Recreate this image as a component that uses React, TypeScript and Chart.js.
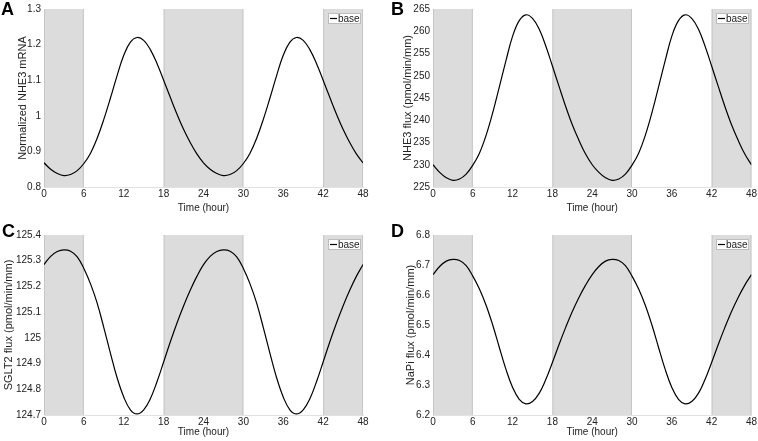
import { useEffect, useRef } from "react";
import { Chart, registerables } from "chart.js";

Chart.register(...registerables);

// ---- data ----
const hours = [
  0, 1, 2, 3, 4, 5, 6, 7, 8, 9, 10, 11, 12, 13, 14, 15, 16, 17, 18, 19, 20, 21, 22, 23, 24,
  25, 26, 27, 28, 29, 30, 31, 32, 33, 34, 35, 36, 37, 38, 39, 40, 41, 42, 43, 44, 45, 46, 47, 48,
];

const nhe3mRNA = [
  0.868, 0.85, 0.838, 0.832, 0.835, 0.846, 0.866, 0.895, 0.937, 0.99, 1.05, 1.113, 1.17, 1.207, 1.22,
  1.212, 1.186, 1.147, 1.1, 1.052, 1.005, 0.962, 0.925, 0.893, 0.868,
  0.85, 0.838, 0.832, 0.835, 0.846, 0.866, 0.895, 0.937, 0.99, 1.05, 1.113, 1.17, 1.207, 1.22,
  1.212, 1.186, 1.147, 1.1, 1.052, 1.005, 0.962, 0.925, 0.893, 0.868,
];

const nhe3Flux = [
  230.0, 228.3, 227.1, 226.5, 226.8, 227.9, 229.9, 232.6, 236.6, 241.7, 247.5, 253.4, 258.9, 262.4, 263.7,
  262.9, 260.5, 256.7, 252.2, 247.6, 243.1, 239.0, 235.5, 232.4, 230.0,
  228.3, 227.1, 226.5, 226.8, 227.9, 229.9, 232.6, 236.6, 241.7, 247.5, 253.4, 258.9, 262.4, 263.7,
  262.9, 260.5, 256.7, 252.2, 247.6, 243.1, 239.0, 235.5, 232.4, 230.0,
];

const sglt2Flux = [
  125.285, 125.317, 125.336, 125.342, 125.337, 125.315, 125.27, 125.21, 125.135, 125.04, 124.94, 124.845,
  124.77, 124.72, 124.704, 124.72, 124.763, 124.829, 124.906, 124.984, 125.057, 125.124, 125.185, 125.239, 125.285,
  125.317, 125.336, 125.342, 125.337, 125.315, 125.27, 125.21, 125.135, 125.04, 124.94, 124.845,
  124.77, 124.72, 124.704, 124.72, 124.763, 124.829, 124.906, 124.984, 125.057, 125.124, 125.185, 125.239, 125.285,
];

const napiFlux = [
  6.668, 6.695, 6.713, 6.719, 6.715, 6.698, 6.663, 6.62, 6.566, 6.5, 6.425, 6.352, 6.292, 6.252, 6.237,
  6.245, 6.272, 6.318, 6.375, 6.435, 6.492, 6.545, 6.592, 6.633, 6.668,
  6.695, 6.713, 6.719, 6.715, 6.698, 6.663, 6.62, 6.566, 6.5, 6.425, 6.352, 6.292, 6.252, 6.237,
  6.245, 6.272, 6.318, 6.375, 6.435, 6.492, 6.545, 6.592, 6.633, 6.668,
];

const xTicks = [0, 6, 12, 18, 24, 30, 36, 42, 48];
const nhe3mRNATicks = [0.8, 0.9, 1, 1.1, 1.2, 1.3];
const nhe3FluxTicks = [225, 230, 235, 240, 245, 250, 255, 260, 265];
const sglt2FluxTicks = [124.7, 124.8, 124.9, 125, 125.1, 125.2, 125.3, 125.4];
const napiFluxTicks = [6.2, 6.3, 6.4, 6.5, 6.6, 6.7, 6.8];

// shaded (dark-phase) intervals, in hours
const darkBands: [number, number][] = [
  [0, 6],
  [18, 30],
  [42, 48],
];

const seriesLabel = "base";
const xTitle = "Time (hour)";

// ---- styling ----
const FONT = "'Liberation Sans', Arial, sans-serif";
const TEXT = "#222222";
const TICK_SIZE = 10;

type PanelDef = {
  letter: string;
  yTitle: string;
  values: number[];
  yTicks: number[];
  left: number;
  top: number;
  width: number;
  height: number;
  yAxisW: number;
  padRight: number;
  padTop: number;
  xAxisH: number;
  yTitlePad: number;
  xTitlePad: number;
  letterX: number;
  letterY: number;
};

const panels: PanelDef[] = [
  {
    letter: "A", yTitle: "Normalized NHE3 mRNA", values: nhe3mRNA, yTicks: nhe3mRNATicks,
    left: 0, top: 0, width: 379, height: 220, yAxisW: 44, padRight: 16, padTop: 8, xAxisH: 33,
    yTitlePad: 16.4, xTitlePad: 5.5, letterX: 1, letterY: 15,
  },
  {
    letter: "B", yTitle: "NHE3 flux (pmol/min/mm)", values: nhe3Flux, yTicks: nhe3FluxTicks,
    left: 379, top: 0, width: 379, height: 220, yAxisW: 54, padRight: 6, padTop: 8, xAxisH: 33,
    yTitlePad: 22.4, xTitlePad: 5.5, letterX: 12, letterY: 15,
  },
  {
    letter: "C", yTitle: "SGLT2 flux (pmol/min/mm)", values: sglt2Flux, yTicks: sglt2FluxTicks,
    left: 0, top: 220, width: 379, height: 221, yAxisW: 44, padRight: 16, padTop: 15, xAxisH: 26,
    yTitlePad: 2, xTitlePad: 3, letterX: 2, letterY: 17,
  },
  {
    letter: "D", yTitle: "NaPi flux (pmol/min/mm)", values: napiFlux, yTicks: napiFluxTicks,
    left: 379, top: 220, width: 379, height: 221, yAxisW: 54, padRight: 6, padTop: 15, xAxisH: 26,
    yTitlePad: 25.4, xTitlePad: 3, letterX: 12, letterY: 17,
  },
];

const bandsPlugin = {
  id: "bands",
  beforeDatasetsDraw(chart: any) {
    const { ctx, chartArea } = chart;
    const xs = chart.scales.x;
    ctx.save();
    for (const [a, b] of darkBands) {
      const x0 = xs.getPixelForValue(a);
      const x1 = xs.getPixelForValue(b);
      ctx.fillStyle = "#dcdcdc";
      ctx.fillRect(x0, chartArea.top, x1 - x0, chartArea.bottom - chartArea.top);
      ctx.strokeStyle = "#c6c6c6";
      ctx.lineWidth = 1;
      ctx.beginPath();
      ctx.moveTo(x0 + 0.5, chartArea.top);
      ctx.lineTo(x0 + 0.5, chartArea.bottom);
      ctx.moveTo(x1 - 0.5, chartArea.top);
      ctx.lineTo(x1 - 0.5, chartArea.bottom);
      ctx.stroke();
    }
    ctx.restore();
  },
};

const legendPlugin = {
  id: "boxLegend",
  afterDatasetsDraw(chart: any) {
    const { ctx, chartArea } = chart;
    const label = chart.data.datasets[0].label as string;
    ctx.save();
    ctx.font = `${TICK_SIZE}px ${FONT}`;
    const tw = ctx.measureText(label).width;
    const w = Math.round(10 + tw + 1);
    const h = 11;
    const bx = Math.round(chartArea.right - 2 - w);
    const by = Math.round(chartArea.top + 4);
    ctx.fillStyle = "#ffffff";
    ctx.fillRect(bx, by, w, h);
    ctx.strokeStyle = "#bdbdbd";
    ctx.lineWidth = 1;
    ctx.strokeRect(bx + 0.5, by + 0.5, w - 1, h - 1);
    ctx.strokeStyle = "#000000";
    ctx.lineWidth = 1.2;
    ctx.beginPath();
    ctx.moveTo(bx + 2, by + h / 2);
    ctx.lineTo(bx + 9, by + h / 2);
    ctx.stroke();
    ctx.fillStyle = TEXT;
    ctx.textBaseline = "middle";
    ctx.textAlign = "left";
    ctx.fillText(label, bx + 10, by + h / 2 + 0.5);
    ctx.restore();
  },
};

function PanelChart({ p }: { p: PanelDef }) {
  const ref = useRef<HTMLCanvasElement>(null);
  useEffect(() => {
    const letterPlugin = {
      id: "letter",
      afterDraw(chart: any) {
        const ctx = chart.ctx;
        ctx.save();
        ctx.font = `bold 18px ${FONT}`;
        ctx.fillStyle = "#000";
        ctx.textBaseline = "alphabetic";
        ctx.textAlign = "left";
        ctx.fillText(p.letter, p.letterX, p.letterY);
        ctx.restore();
      },
    };
    const chart = new Chart(ref.current as HTMLCanvasElement, {
      type: "line",
      data: {
        datasets: [
          {
            label: seriesLabel,
            data: hours.map((h, i) => ({ x: h, y: p.values[i] })),
            borderColor: "#000000",
            borderWidth: 1.2,
            pointRadius: 0,
            tension: 0.4,
            fill: false,
          },
        ],
      },
      options: {
        responsive: false,
        animation: false,
        devicePixelRatio: 1,
        layout: { padding: { left: 0, right: p.padRight, top: p.padTop, bottom: 0 } },
        plugins: { legend: { display: false }, tooltip: { enabled: false } },
        scales: {
          x: {
            type: "linear",
            min: 0,
            max: 48,
            afterBuildTicks: (s: any) => {
              s.ticks = xTicks.map((v) => ({ value: v }));
            },
            afterFit: (s: any) => {
              s.height = p.xAxisH;
            },
            ticks: {
              callback: (v: any) => String(v),
              font: { family: FONT, size: TICK_SIZE },
              color: TEXT,
              padding: 1,
              maxRotation: 0,
              autoSkip: false,
            },
            grid: { display: false, drawTicks: false },
            border: { display: true, color: "#e2e2e2" },
            title: {
              display: true,
              text: xTitle,
              font: { family: FONT, size: TICK_SIZE },
              color: TEXT,
              padding: { top: 0, bottom: p.xTitlePad },
            },
          },
          y: {
            type: "linear",
            min: p.yTicks[0],
            max: p.yTicks[p.yTicks.length - 1],
            afterBuildTicks: (s: any) => {
              s.ticks = p.yTicks.map((v) => ({ value: v }));
            },
            afterFit: (s: any) => {
              s.width = p.yAxisW;
            },
            ticks: {
              callback: (v: any) => String(v),
              font: { family: FONT, size: TICK_SIZE },
              color: TEXT,
              padding: 3,
              autoSkip: false,
            },
            grid: { display: false, drawTicks: false },
            border: { display: false },
            title: {
              display: true,
              text: p.yTitle,
              font: { family: FONT, size: 11 },
              color: TEXT,
              padding: { top: p.yTitlePad, bottom: 0 },
            },
          },
        },
      } as any,
      plugins: [bandsPlugin, legendPlugin, letterPlugin],
    });
    return () => chart.destroy();
  }, [p]);
  return (
    <canvas
      ref={ref}
      width={p.width}
      height={p.height}
      style={{ position: "absolute", left: p.left, top: p.top, width: p.width, height: p.height }}
    />
  );
}

export default function App() {
  return (
    <div
      style={{
        position: "absolute",
        left: 0,
        top: 0,
        width: 758,
        height: 441,
        background: "#ffffff",
        overflow: "hidden",
      }}
    >
      {panels.map((p) => (
        <PanelChart key={p.letter} p={p} />
      ))}
    </div>
  );
}
